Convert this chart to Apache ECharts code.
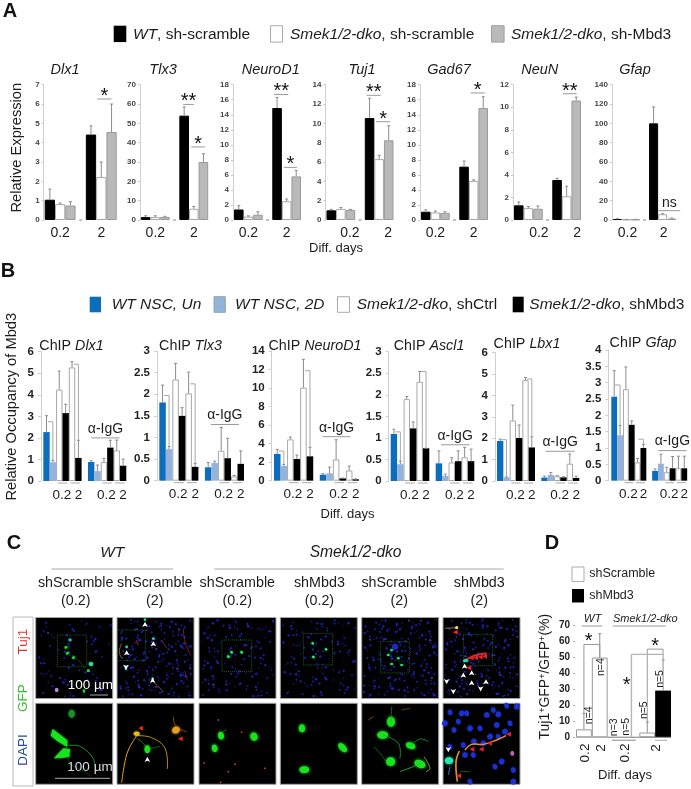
<!DOCTYPE html>
<html><head><meta charset="utf-8">
<style>html,body{margin:0;padding:0;background:#fff}#c{width:691px;height:789px}</style>
<script src="https://cdn.jsdelivr.net/npm/echarts@6/dist/echarts.min.js"></script>
</head><body><div id="c"></div>
<script>
const FF='"Liberation Sans",Arial,sans-serif';
// ---------- Panel A data: [0.2 d: WT, dko, dko+shMbd3, 2 d: WT, dko, dko+shMbd3]
const aDlx1=[1.05,0.82,0.75,4.42,2.22,4.55], aDlx1Top=[1.6,0.88,0.95,4.87,3.0,6.0];
const aTlx3=[1.5,1.5,1.6,54,5.8,30], aTlx3Top=[2.2,2.2,1.9,58.5,7,34.3];
const aNeuroD1=[1.4,0.45,0.7,14.9,2.5,5.8], aNeuroD1Top=[1.9,0.55,1.1,16.3,2.8,6.6];
const aTuj1=[1.0,1.15,1.05,10.55,6.3,8.25], aTuj1Top=[1.1,1.3,1.1,12.6,6.7,9.75];
const aGad67=[1.1,1.0,0.95,7.1,5.2,14.9], aGad67Top=[1.35,1.2,1.1,7.85,5.35,16.4];
const aNeuN=[1.3,1.05,1.0,3.55,2.1,10.6], aNeuNTop=[1.6,1.2,1.25,3.7,3.0,10.9];
const aGfap=[1,0.5,0.5,100,6,1.5], aGfapTop=[1.3,0.6,0.6,117,6.5,2];
const aTickLabels=['','0.2','','','','2',''];
// ---------- Panel B data: two groups of [blue, light blue, white, black, white, black]
const bDlx1=[2.27,0.87,4.24,3.15,5.27,1.07,0.88,0.46,0.88,1.55,1.42,0.71];
const bDlx1Top=[3.03,0.96,5.1,3.56,5.54,1.89,0.94,0.74,1.05,1.89,1.9,1.02];
const bTlx3=[1.81,0.73,2.34,1.5,2.02,0.32,0.31,0.41,0.69,0.52,0.1,0.39];
const bTlx3Top=[2.21,0.79,2.71,1.69,2.51,0.4,0.42,0.45,1.23,0.98,0.12,0.69];
const bNeuroD1=[2.88,1.58,4.46,2.34,10.04,2.63,0.65,0.8,2.3,0.25,1.1,0.15];
const bNeuroD1Top=[3.38,1.76,4.71,2.77,13.1,3.6,0.76,1.47,4.42,0.28,1.58,0.2];
const bAscl1=[1.09,0.39,1.9,1.22,2.3,0.76,0.41,0.12,0.43,0.46,0.55,0.46];
const bAscl1Top=[1.2,0.46,1.96,1.37,2.54,0.76,0.7,0.16,0.54,0.7,0.78,0.74];
const bLbx1=[1.87,0.17,2.83,2.01,4.72,1.57,0.16,0.28,0.22,0.17,0.81,0.14];
const bLbx1Top=[1.96,0.19,3.55,2.62,4.84,2.07,0.23,0.4,0.25,0.2,1.26,0.22];
const bGfap=[2.57,1.39,2.8,1.71,0.56,1.0,0.3,0.52,0.26,0.38,0.38,0.38];
const bGfapTop=[3.37,1.69,3.48,1.83,0.68,1.11,0.36,0.81,0.41,0.74,0.75,0.75];
const bTickLabels=['','','{p|0.2}','','','2','','','','{p|0.2}','','','2'];
// ---------- Panel D data
const dShScramble=[5,50,0,0,3,null], dShScrambleTop=[15,65,null,null,9.6,null];
const dShMbd3=[null,null,null,null,null,29.3], dShMbd3Top=[null,null,null,null,null,48.5];

const C={black:'#000',white:'#fff',gray:'#b9b9b9',blue:'#0b6dbb',light:'#93b2dc',line:'#a8a8a8',err:'#8c8c8c',txt:'#1c1c1c'};
const aSlots=[0,1,2,4,5,6];
const bSlots=[0,1,2,3,4,5,7,8,9,10,11,12];

const aPanels=[
 {t:'Dlx1',tx:60,l:44.7,w:72,max:7,iv:1,v:aDlx1,e:aDlx1Top,pad:0,sig:[[4.6,6.0,6.26,'*']]},
 {t:'Tlx3',tx:158,l:140.9,w:67.3,max:70,iv:10,v:aTlx3,e:aTlx3Top,pad:0,sig:[[3.9,5.0,59.8,'**'],[4.73,6.18,37.8,'*']]},
 {t:'NeuroD1',tx:265.7,l:234,w:67,max:18,iv:2,v:aNeuroD1,e:aNeuroD1Top,pad:0,sig:[[3.7,5.17,16.7,'**'],[4.7,6.08,7.0,'*']]},
 {t:'Tuj1',tx:357,l:326.5,w:67,max:14,iv:2,v:aTuj1,e:aTuj1Top,pad:9,sig:[[3.7,5.16,12.9,'**'],[4.67,6.16,10.17,'*']]},
 {t:'Gad67',tx:444,l:421,w:67,max:18,iv:2,v:aGad67,e:aGad67Top,pad:0,sig:[[4.7,6.16,16.9,'*']]},
 {t:'NeuN',tx:534.7,l:514,w:67,max:12,iv:2,v:aNeuN,e:aNeuNTop,pad:10.5,sig:[[4.62,6.05,11.2,'**']]},
 {t:'Gfap',tx:630,l:612.9,w:63.3,max:140,iv:20,v:aGfap,e:aGfapTop,pad:1,sig:[[4.54,6.94,9.66,'ns']]}
];
const bPanels=[
 {t:'Dlx1',tx:66.5,ty:342.3,l:43.3,w:83,top:351.7,bot:481,ax:2.3,max:6,iv:1,v:bDlx1,e:bDlx1Top,br:[[1,2.75,0.96],[5,5.42,1.89]],ig:[7.04,11.45,2.0]},
 {t:'Tlx3',tx:185.5,ty:342.3,l:159.3,w:84.7,top:351,bot:480.7,ax:2.3,max:3,iv:0.5,v:bTlx3,e:bTlx3Top,br:[[1,1.97,0.79],[5,2.24,0.4]],ig:[7.41,11.7,1.3]},
 {t:'NeuroD1',tx:310,ty:342.3,l:274,w:85,top:351,bot:480.7,ax:2.3,max:14,iv:2,v:bNeuroD1,e:bNeuroD1Top,br:[[1,3.2,1.76],[5,11.87,3.6]],ig:[6.94,11.2,4.75]},
 {t:'Ascl1',tx:424,ty:342.3,l:390.7,w:83.6,top:351.7,bot:481,ax:2,max:3,iv:0.5,v:bAscl1,e:bAscl1Top,br:[[1,1.14,0.46],[5,2.54,0.76]],ig:[7.32,11.72,0.84]},
 {t:'Lbx1',tx:522,ty:340.3,l:497,w:82.3,top:352.7,bot:481,ax:2,max:6,iv:1,v:bLbx1,e:bLbx1Top,br:[[1,1.93,0.19],[5,4.77,2.07]],ig:[7.19,11.77,1.39]},
 {t:'Gfap',tx:638,ty:340,l:611.3,w:76,top:350,bot:480.7,ax:3,max:4,iv:0.5,v:bGfap,e:bGfapTop,br:[[1,2.93,1.69],[5,1.27,1.11]],ig:[7.54,12.39,0.92]}
];

const grid=[],xAxis=[],yAxis=[],series=[],title=[];
let idx=0;
function slotsData(n,slots,vals,keep){const d=new Array(n).fill(null);slots.forEach((s,i)=>{if(keep(i))d[s]=vals[i];});return d;}
const sx=(api,s)=>api.coord([0,0])[0]+s*api.size([1,0])[0];
function errSeries(i,data){
  series.push({type:'custom',xAxisIndex:i,yAxisIndex:i,z:3,silent:true,data,encode:{x:0,y:[1,2]},
   renderItem(p,api){const s=api.value(0),a=api.coord([s,api.value(1)]),b=api.coord([s,api.value(2)]);
     const st={stroke:C.err,lineWidth:1};
     return {type:'group',children:[
      {type:'line',shape:{x1:a[0],y1:a[1],x2:b[0],y2:b[1]},style:st},
      {type:'line',shape:{x1:a[0]-1.5,y1:b[1],x2:a[0]+1.5,y2:b[1]},style:st}]};}});
}
function noteSeries(i,draw){
  series.push({type:'custom',xAxisIndex:i,yAxisIndex:i,z:4,silent:true,data:[[0,0]],encode:{x:0,y:1},clip:false,
   renderItem(p,api){return {type:'group',children:draw(api)};}});
}
const ln=(x1,y1,x2,y2,stroke,w)=>({type:'line',shape:{x1,y1,x2,y2},style:{stroke,lineWidth:w||1}});
const tx=(x,y,text,size,o)=>Object.assign({type:'text',style:Object.assign({x,y,text,fontSize:size,fontFamily:FF,fill:C.txt,textAlign:'center',textVerticalAlign:'middle'},o||{})});

// ---- Panel A grids
aPanels.forEach(p=>{
  const i=idx++;
  grid.push({left:p.l,top:84.7,width:p.w,height:135.3});
  const pad=p.pad>=0?[0,0,0,2*p.pad]:[0,-2*p.pad,0,0];
  xAxis.push({type:'category',gridIndex:i,data:aTickLabels,axisLine:{show:false},axisTick:{show:false},
    axisLabel:{interval:0,fontSize:14,color:C.txt,margin:6,fontFamily:FF,padding:pad,hideOverlap:false}});
  yAxis.push({type:'value',gridIndex:i,min:0,max:p.max,interval:p.iv,offset:1,splitLine:{show:false},
    axisLine:{show:true,lineStyle:{color:'#d0d0d0'}},axisTick:{show:true,length:2,lineStyle:{color:'#c8c8c8'}},
    axisLabel:{fontSize:8,fontWeight:'bold',color:'#444',margin:4,fontFamily:FF}});
  const col=[[C.black,C.black],[C.white,C.line],[C.gray,'#9a9a9a']];
  col.forEach((c,k)=>series.push({type:'bar',xAxisIndex:i,yAxisIndex:i,stack:'s'+i,barWidth:'100%',barCategoryGap:0,silent:true,
    itemStyle:{color:c[0],borderColor:c[1],borderWidth:1},
    data:slotsData(7,aSlots,p.v,n=>n%3===k)}));
  errSeries(i,aSlots.map((s,n)=>[s,p.v[n],p.e[n]]));
  noteSeries(i,api=>{
    const out=[];const y0=api.coord([0,0])[1];
    const xg=sx(api,3);out.push(ln(xg-1.5,y0,xg+1.5,y0,'#888'));
    p.sig.forEach(g=>{
      const x1=sx(api,g[0]),x2=sx(api,g[1]),y=api.coord([0,g[2]])[1];
      out.push(ln(x1,y,x2,y,'#999'));
      if(g[3]==='ns') out.push(tx((x1+x2)/2,y-7.5,'ns',14));
      else out.push(tx((x1+x2)/2,y-2.5,g[3],20,{fill:'#111'}));
    });
    return out;
  });
  title.push({text:p.t,left:p.tx,top:57,textAlign:'center',textStyle:{fontSize:14.5,fontStyle:'italic',fontWeight:'normal',color:C.txt,fontFamily:FF}});
});
// ---- Panel B grids
bPanels.forEach(p=>{
  const i=idx++;
  grid.push({left:p.l,top:p.top,width:p.w,height:p.bot-p.top});
  xAxis.push({type:'category',gridIndex:i,data:bTickLabels,axisLine:{show:false},axisTick:{show:false},
    axisLabel:{interval:0,fontSize:13.5,color:C.txt,margin:7,fontFamily:FF,hideOverlap:false,
      rich:{p:{fontSize:13.5,color:C.txt,fontFamily:FF,padding:[0,0,0,5]}}}});
  yAxis.push({type:'value',gridIndex:i,min:0,max:p.max,interval:p.iv,offset:p.ax,splitLine:{show:false},
    axisLine:{show:true,lineStyle:{color:'#cfcfcf'}},axisTick:{show:true,length:3,lineStyle:{color:'#cfcfcf'}},
    axisLabel:{fontSize:11.5,fontWeight:'bold',color:'#222',margin:7,fontFamily:FF}});
  const seq=[[C.blue,C.blue],[C.light,C.light],[C.white,C.line],[C.black,C.black]];
  const cls=[0,1,2,3,2,3];
  seq.forEach((c,k)=>series.push({type:'bar',xAxisIndex:i,yAxisIndex:i,stack:'s'+i,barWidth:'100%',barCategoryGap:0,silent:true,
    itemStyle:{color:c[0],borderColor:c[1],borderWidth:k===2?1:0},
    data:slotsData(13,bSlots,p.v,n=>cls[n%6]===k)}));
  errSeries(i,bSlots.map((s,n)=>[s,p.v[n],p.e[n]]));
  noteSeries(i,api=>{
    const out=[];const y0=api.coord([0,0])[1];
    [[1.75,3.25],[3.75,5.25],[8.75,10.25],[10.75,12.25]].forEach(u=>out.push(ln(sx(api,u[0]),y0+2,sx(api,u[1]),y0+2,'#aaa')));
    p.br.forEach(b=>{
      const x=sx(api,b[0]),y1=api.coord([0,b[1]])[1],y2=api.coord([0,b[2]])[1];
      out.push(ln(x-5,y1,x,y1,'#a8a8a8'));out.push(ln(x,y1,x,y2,'#a8a8a8'));
    });
    const a=sx(api,p.ig[0]),c=sx(api,p.ig[1]),y=api.coord([0,p.ig[2]])[1];
    out.push(ln(a,y,c,y,'#999'));
    out.push(tx((a+c)/2,y-9,'\u03b1-IgG',14));
    return out;
  });
  title.push({text:'ChIP {i|'+p.t+'}',left:p.tx,top:p.ty-8.5,textAlign:'center',
    textStyle:{fontSize:14.3,fontWeight:'normal',color:C.txt,fontFamily:FF,rich:{i:{fontSize:14.3,fontStyle:'italic',color:C.txt,fontFamily:FF}}}});
});
// ---- Panel D grid
{
  const i=idx++;
  grid.push({left:576,top:625.7,width:95,height:111.6});
  xAxis.push({type:'category',gridIndex:i,data:['a','b','c','d','e','f'],axisLine:{show:false},axisTick:{show:false},axisLabel:{show:false}});
  yAxis.push({type:'value',gridIndex:i,min:0,max:70,interval:10,offset:1,splitLine:{show:false},
    axisLine:{show:false},axisTick:{show:true,length:2,lineStyle:{color:'#aaa'}},
    axisLabel:{fontSize:10,fontWeight:'bold',color:'#222',margin:5,fontFamily:FF}});
  series.push({type:'bar',xAxisIndex:i,yAxisIndex:i,stack:'d',barWidth:'100%',barCategoryGap:0,silent:true,
    itemStyle:{color:'#fff',borderColor:'#999',borderWidth:1},data:dShScramble});
  series.push({type:'bar',xAxisIndex:i,yAxisIndex:i,stack:'d',barWidth:'100%',barCategoryGap:0,silent:true,
    itemStyle:{color:'#000'},data:dShMbd3});
  errSeries(i,[0,1,4].map(s=>[s,dShScramble[s],dShScrambleTop[s]]).concat([[5,dShMbd3[5],dShMbd3Top[5]]]));
  noteSeries(i,api=>{
    const out=[];const Y=v=>api.coord([0,v])[1];const G='#999';
    const gl=(s,v1,v2)=>ln(sx(api,s),Y(v1),sx(api,s),Y(v2),G);
    out.push(ln(sx(api,0),Y(58.2),sx(api,1),Y(58.2),G),gl(0,58.2,15),gl(1,58.2,50));
    out.push(ln(sx(api,4),Y(55.3),sx(api,5),Y(55.3),G),gl(4,55.3,9.6),gl(5,55.3,48.5));
    out.push(ln(sx(api,3),Y(52),sx(api,5),Y(52),'#b5b5b5',1.4),ln(sx(api,3),Y(52),sx(api,3),Y(0),'#b5b5b5',1.4));
    out.push(tx(sx(api,0.3),Y(58.2)-3,'*',20,{fill:'#111'}),tx(sx(api,4.5),Y(55.3)-3,'*',20,{fill:'#111'}),tx(626.7,685,'*',20,{fill:'#111'}));
    [[0.32,13.8,'n=4'],[1.08,44,'n=4'],[1.92,6.3,'n=3'],[2.66,6.6,'n=5'],[3.8,17,'n=5'],[4.8,36.6,'n=5']].forEach(n=>{
      const t=tx(0,0,n[2],10.5);t.x=sx(api,n[0]);t.y=Y(n[1]);t.rotation=Math.PI/2;out.push(t);});
    [[0.1,753,'0.2'],[1.1,748,'2'],[2.6,753,'0.2'],[4.55,748,'2']].forEach(n=>{
      const t=tx(0,0,n[2],13.5);t.x=sx(api,n[0]);t.y=n[1];t.rotation=Math.PI/2;out.push(t);});
    const y0=Y(0);
    out.push(ln(sx(api,0)-8,y0,sx(api,1)+8,y0,'#aaa'),ln(612,y0+3,635.7,y0+3,'#aaa',1.4),ln(639.3,y0,671,y0,'#888'),ln(655,y0+3,667,y0+3,'#aaa'));
    return out;
  });
}

// ---------- static layout: text and micrograph panels
const g=[];
function T(x,y,text,size,o,el){g.push(Object.assign({type:'text',silent:true,x,y,style:Object.assign({text,fontSize:size,fontFamily:FF,fill:C.txt,textAlign:'center',textVerticalAlign:'middle'},o||{})},el||{}));}
function R(x,y,w,h,fill,stroke,lw){g.push({type:'rect',silent:true,shape:{x,y,width:w,height:h},style:{fill,stroke:stroke||null,lineWidth:lw||1}});}
const it=s=>({i:{fontStyle:'italic',fontSize:s,fontFamily:FF,fill:C.txt}});
function L(x,y,rich,size){T(x,y,rich,size,{textAlign:'left',rich:it(size)});}
const up=Math.PI/2;
// panel letters
T(10,11,'A',20,{fontWeight:'bold',fill:'#111'});T(8,271.5,'B',20,{fontWeight:'bold',fill:'#111'});
T(14,543,'C',20,{fontWeight:'bold',fill:'#111'});T(552,543,'D',20,{fontWeight:'bold',fill:'#111'});
// A legend
R(113.7,25.7,12.6,16.4,'#000');L(133,34.5,'{i|WT}, sh-scramble',15.5);
R(270.5,25.7,12,16.4,'#fff','#aaa');L(290,34.5,'{i|Smek1/2-dko}, sh-scramble',15.5);
R(491.5,25.7,12.6,16.4,'#b9b9b9','#a0a0a0');L(511,34.5,'{i|Smek1/2-dko}, sh-Mbd3',15.5);
T(17,147.7,'Relative Expression',14.7,{},{rotation:up});
T(336,248,'Diff. days',13);
// B legend
R(89.7,296.7,11.3,15.6,C.blue);L(111.7,304.5,'{i|WT NSC, Un}',15.5);
R(214,296.7,11.3,15.6,C.light,'#8aa');L(235,304.5,'{i|WT NSC, 2D}',15.5);
R(337.5,296.7,12,15.6,'#fff','#aaa');L(356.7,304.5,'{i|Smek1/2-dko}, shCtrl',15.5);
R(512.7,296.7,11,15.6,'#000');L(529.3,304.5,'{i|Smek1/2-dko}, shMbd3',15.5);
T(12,406.7,'Relative Occupancy of Mbd3',14.7,{},{rotation:up});
T(347.5,514.7,'Diff. days',13);
// C headers
T(112.2,553,'WT',15.5,{fontStyle:'italic'});T(355.6,553,'Smek1/2-dko',15.6,{fontStyle:'italic'});
g.push({type:'line',silent:true,shape:{x1:51.4,y1:569,x2:173,y2:569},style:{stroke:'#aaa',lineWidth:1}});
g.push({type:'line',silent:true,shape:{x1:214.3,y1:569,x2:503.6,y2:569},style:{stroke:'#aaa',lineWidth:1}});
[[75.7,'shScramble','(0.2)'],[154.8,'shScramble','(2)'],[237.3,'shScramble','(0.2)'],[319.4,'shMbd3','(0.2)'],[399.2,'shScramble','(2)'],[479.3,'shMbd3','(2)']].forEach(h=>{
  T(h[0],582.7,h[1],14.3);T(h[0],600.7,h[2],14.3);});
R(13,617,20,169,'#fff','#bbb');
T(23,641.7,'Tuj1',13.5,{fill:'#e0322f'},{rotation:up});
T(23,698,'GFP',13.5,{fill:'#33c02c'},{rotation:up});
T(23,750,'DAPI',13.5,{fill:'#274c9c'},{rotation:up});
// D header/legend
T(592.7,618.7,'WT',11.5,{fontStyle:'italic'});T(645.3,618.7,'Smek1/2-dko',11,{fontStyle:'italic'});
g.push({type:'line',silent:true,shape:{x1:581.7,y1:626,x2:602.3,y2:626},style:{stroke:'#999'}});
g.push({type:'line',silent:true,shape:{x1:612.7,y1:626,x2:665.7,y2:626},style:{stroke:'#999'}});
R(572,567,12,14.5,'#fff','#aaa');T(589.3,574,'shScramble',12.5,{textAlign:'left'});
R(572,589,12,13.5,'#000');T(589.3,596,'shMbd3',12.5,{textAlign:'left'});
T(545,676.7,'Tuj1{s|+}GFP{s|+}/GFP{s|+}(%)',14,{rich:{s:{fontSize:9,verticalAlign:'top',fontFamily:FF,fill:C.txt,padding:[0,0,5,0]}}},{rotation:up});
T(625,775.7,'Diff. days',13);

// ---------- micrographs (illustrative drawing, not data)
const PX=[35.7,117,199,280.3,361.7,443],TOP=617.5,BOT=703.3,PW=77,PH=81;
PX.forEach(x=>{R(x,TOP,PW,PH,'#000','#a2a2a2');R(x,BOT,PW,PH,'#000','#a2a2a2');});
const speck=[70,190,120,110,190,170];
function frac(v){return v-Math.floor(v);}
PX.forEach((x,k)=>{
  for(let i=1;i<=speck[k];i++){
    const u=frac(i*0.7548776662+k*0.37+0.13*Math.sin(i*1.7)),v=frac(i*0.5698402910+k*0.21+0.13*Math.cos(i*2.3));
    const r=0.6+0.7*frac(i*0.381);
    g.push({type:'circle',silent:true,shape:{cx:x+2+u*(PW-4),cy:TOP+2+v*(PH-4),r},style:{fill:i%11===0&&k!==3?'#40289c':'#1a1fb4'}});
  }
});
function Z(ox,oy){return (a,b)=>[ox+a/3,oy+b/3];}
function box(z,a,b,c,d){const p=z(a,b),q=z(c,d);g.push({type:'rect',silent:true,shape:{x:p[0],y:p[1],width:q[0]-p[0],height:q[1]-p[1]},style:{fill:null,stroke:'#1c7a34',lineWidth:0.8,lineDash:[1,1]}});}
function cell(z,a,b,rx,ry,rot,col,blur){const p=z(a,b);g.push({type:'ellipse',silent:true,x:p[0],y:p[1],rotation:rot||0,shape:{cx:0,cy:0,rx,ry},style:{fill:col||'#17e41c',shadowBlur:blur===undefined?3:blur,shadowColor:col||'#17e41c'}});}
function path(z,pts,col,w){g.push({type:'polyline',silent:true,shape:{points:pts.map(q=>z(q[0],q[1])),smooth:0.4},style:{stroke:col,lineWidth:w||0.9,fill:null}});}
function poly(z,pts,col){g.push({type:'polygon',silent:true,shape:{points:pts.map(q=>z(q[0],q[1]))},style:{fill:col,shadowBlur:2,shadowColor:col}});}
function arrow(z,a,b,dir,col){const p=z(a,b),s=dir===1?1:-1;g.push({type:'polygon',silent:true,shape:{points:[[p[0],p[1]-3.2*s],[p[0]+2.8,p[1]+2*s],[p[0],p[1]+0.8*s],[p[0]-2.8,p[1]+2*s]]},style:{fill:col||'#fff'}});}
function tri(z,a,b,col){const p=z(a,b);g.push({type:'polygon',silent:true,shape:{points:[[p[0]-2.8,p[1]],[p[0]+2,p[1]-2.5],[p[0]+2,p[1]+2.5]]},style:{fill:col||'#ee1f2a'}});}
const z1=Z(30,615),z2=Z(190,615),z3=Z(350,615);
const GR='#17e41c',OR='#e8a020',RD='#d9302a',CY='#25e0a8';
// panel 1
box(z1,82,60,170,155);
[[108,97],[112,115],[130,128]].forEach(c=>cell(z1,c[0],c[1],1.6,1.2,0.6,GR,1.5));
cell(z1,120,75,1.6,1.4,0,'#20b0b0',1);cell(z1,183,147,2.2,2,0,CY,2);cell(z1,175,167,1.3,1.3,0,GR,1);cell(z1,162,228,1.3,1.5,0,GR,1);cell(z1,80,225,1.7,2,0,'#b090e0',1);
path(z1,[[125,120],[140,130],[165,160]],'#1f8a2a',0.5);
poly(z1,[[68,342],[112,376],[112,396],[85,380],[62,362]],GR);
poly(z1,[[72,430],[100,400],[120,402],[118,425],[100,428]],GR);
cell(z1,125,296,3.2,4,0,'#15902a',2);
path(z1,[[115,392],[150,394],[188,428],[196,462]],'#1f9a2a',0.9);
path(z1,[[118,425],[118,445],[165,470],[182,485]],'#15802a',0.5);
// panel 2
box(z1,262,45,347,137);
[[345,18],[370,75],[290,100],[288,165],[368,195]].forEach(c=>cell(z1,c[0],c[1]-4,1.2,1.2,0,CY,1));
path(z1,[[275,85],[268,110],[275,130]],OR,0.6);path(z1,[[460,40],[465,80],[482,122]],'#c03050',0.6);path(z1,[[465,168],[470,190]],'#a02040',0.8);
path(z1,[[365,195],[400,230]],'#d06a40',0.7);path(z1,[[318,75],[325,90]],'#d03030',0.9);path(z1,[[395,75],[410,100]],'#a03060',0.7);
[[345,30],[370,88],[290,115],[368,198]].forEach(c=>arrow(z1,c[0],c[1],1));arrow(z1,288,155,-1);
path(z1,[[320,362],[295,405],[283,450],[275,503]],OR,1);
path(z1,[[320,362],[365,368],[405,400],[412,462]],'#c8a020',0.9);
cell(z1,320,356,3,2.2,0,'#e6c020',2);cell(z1,438,345,4,3.5,0.5,'#e8a020',3);
path(z1,[[430,305],[438,335],[470,350]],'#d08020',0.6);
path(z1,[[320,370],[340,385],[352,403]],'#18b828',0.7);path(z1,[[352,403],[390,394]],'#18a028',0.6);
cell(z1,352,403,2.8,4,0,GR,2);
tri(z1,333,340);tri(z1,452,371);arrow(z1,352,435,1);
// panel 3
box(z2,96,75,185,170);
[[125,112],[115,125],[155,112]].forEach(c=>cell(z2,c[0],c[1],1.5,1.2,-0.7,'#22f060',1.5));
cell(z2,93,362,3,4,0.2);cell(z2,74,400,2.8,3.8,0.3);cell(z2,192,365,3.6,4.2,0.5);
[[85,315],[155,352],[43,444],[135,448],[115,470],[92,502],[225,460]].forEach(c=>cell(z2,c[0],c[1],0.9,0.8,0,'#b83a20',0.5));
path(z2,[[98,350],[110,344]],'#30c030',0.6);
// panel 4
box(z2,340,55,428,150);
[[368,85],[408,103],[370,126]].forEach(c=>cell(z2,c[0],c[1],1.4,1.1,-0.5,'#22f080',1.5));
cell(z2,336,340,3.2,4,0.1);cell(z2,458,398,3.2,5.6,0.75);cell(z2,343,464,5,3.4,0);
// panel 5
box(z3,92,80,178,174);
[[125,105],[115,120],[145,130],[155,150],[125,147]].forEach(c=>cell(z3,c[0],c[1],1.5,1.1,0,'#22e070',1.5));
cell(z3,135,95,3,3,0,'#2424c8',2);
cell(z3,123,320,4,5,0);cell(z3,98,360,5.5,3.8,0);cell(z3,182,392,5,3.2,-0.4);cell(z3,122,440,4.6,4.4,0);cell(z3,210,447,5.8,3.8,-0.4);
path(z3,[[123,320],[125,275]],'#18a028',0.6);path(z3,[[98,360],[145,385],[150,430]],'#18b028',0.8);path(z3,[[72,395],[98,425],[108,440]],'#18a028',0.6);
path(z3,[[150,470],[190,455],[210,447]],'#18c028',0.9);path(z3,[[182,392],[210,372],[235,380]],'#18c028',0.7);path(z3,[[222,425],[240,460],[228,470]],'#a0c020',0.8);
path(z3,[[55,315],[70,305]],'#a07020',0.8);path(z3,[[155,285],[180,280]],'#805020',0.8);
// panel 6
box(z3,340,58,428,152);
path(z3,[[285,40],[325,38]],OR,0.7);cell(z3,320,38,1.4,1.3,0,'#f0e080',1);tri(z3,317,52);
path(z3,[[340,140],[372,122],[410,115]],'#c03030',2.2);
[[365,128],[378,128],[392,126],[405,124]].forEach(c=>tri(z3,c[0],c[1]));tri(z3,358,158);cell(z3,347,137,2.6,1.4,0,CY,1.5);
[[344,155],[340,182],[365,175],[365,205],[408,202]].forEach(c=>arrow(z3,c[0],c[1],1));
[[290,198],[310,228],[392,220]].forEach(c=>arrow(z3,c[0],c[1],-1));
[[300,292],[335,295],[350,295],[285,325],[325,320],[410,300],[430,285],[445,298],[470,272],[500,275],[312,345],[360,340],[390,340],[440,330],[480,325],[465,350],[340,390],[372,380],[300,395],[345,420],[370,420],[400,385],[435,455],[455,440],[490,465],[420,365],[445,365],[490,500],[360,500]].forEach((c,i)=>cell(z3,c[0],c[1],2.3+i%2*0.5,2.8,0.4,'#1c30d0',1.5));
path(z3,[[322,500],[318,440],[328,408]],'#e89030',1.6);
path(z3,[[345,405],[365,388],[400,388],[440,375],[468,362]],'#e89030',1.4);
cell(z3,297,437,4.2,3.4,0,'#28e8b0',3);path(z3,[[300,455],[295,480]],'#2090e0',1);path(z3,[[330,470],[360,470]],'#20a030',0.6);
cell(z3,487,415,1.8,2.4,0,'#c060c0',1);
[[477,358],[420,385],[395,403],[367,403],[327,482]].forEach(c=>tri(z3,c[0],c[1]));arrow(z3,295,402,-1);
// scale labels
T(90.4,685.7,'100 \u00b5m',13.5,{fill:'#fff'});
g.push({type:'line',silent:true,shape:{x1:90,y1:695,x2:108,y2:695},style:{stroke:'#aaa'}});
T(90,767.3,'100 \u00b5m',13.5,{fill:'#ddd'});
g.push({type:'line',silent:true,shape:{x1:55,y1:778.3,x2:110,y2:778.3},style:{stroke:'#aaa'}});

const chart=echarts.init(document.getElementById('c'),null,{renderer:'canvas'});
chart.setOption({animation:false,backgroundColor:'#fff',textStyle:{fontFamily:FF},title,grid,xAxis,yAxis,series,graphic:{elements:g}});
</script></body></html>
